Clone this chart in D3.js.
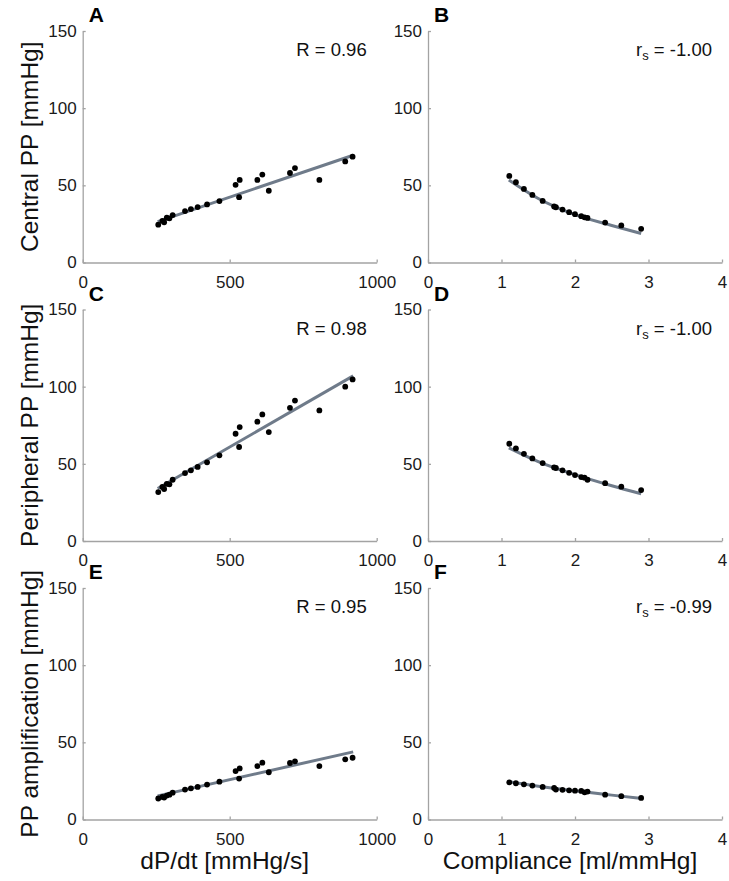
<!DOCTYPE html>
<html>
<head>
<meta charset="utf-8">
<script src="https://cdn.jsdelivr.net/npm/d3@7"></script>
<style>
  body { margin: 0; background: #fff; }
  svg { font-family: "Liberation Sans", Arial, sans-serif; }
  .axis path, .axis line { stroke: #a3a3a3; stroke-width: 1.3; }
  .axis text { fill: #1a1a1a; font-size: 17px; }
  .fit { fill: none; stroke: #6f7b8a; stroke-width: 3; }
</style>
</head>
<body>
<div id="chart"></div>
<script>
// dP/dt panels (A, C, E) share the same x values
const dpdt = [257, 271, 277, 286, 295, 306, 348, 368, 391, 423, 465, 520, 532, 534, 594, 611, 633, 705, 722, 805, 893, 918];
const centralPP = [24.5, 27, 26, 29, 28.6, 30.7, 33.3, 34.6, 35.9, 37.6, 39.8, 50.3, 42.3, 53.5, 53.5, 57, 46.5, 58, 61.2, 53.5, 65.5, 68.6];
const peripheralPP = [31.7, 35, 33.7, 37, 36.7, 39.7, 44, 45.8, 48, 51, 55.5, 69.5, 60.9, 73.8, 77.3, 82, 70.6, 86.3, 91, 84.6, 100, 104.7];
const ampPP = [13.6, 14.6, 14.2, 15.5, 16.1, 17.4, 19.4, 20.2, 21.1, 22.6, 24.5, 31.4, 26.5, 33.1, 34.6, 36.8, 30.6, 36.6, 37.7, 34.6, 39, 40];

// compliance panels (B, D, F)
const compliance = [1.106, 1.196, 1.305, 1.42, 1.56, 1.716, 1.74, 1.83, 1.92, 2.0, 2.085, 2.13, 2.17, 2.41, 2.63, 2.9];
const centralC = [56.1, 52, 47.7, 43.8, 39.9, 36.3, 35.8, 34.3, 32.6, 31.3, 30, 29.3, 28.9, 25.9, 24, 21.8];
const peripheralC = [63, 60, 56.5, 53.5, 50.5, 47.7, 47.3, 45.8, 44.2, 42.7, 41.4, 41, 39.7, 37.5, 35.2, 33];
const ampC = [24.1, 23.5, 22.8, 22, 21.1, 20.4, 19.4, 19.2, 18.9, 18.7, 18.5, 17.6, 18.1, 16.1, 15.1, 14];

// fitted lines / curves
const fitA = [[255, 26.5], [920, 69.5]];
const fitC = [[255, 34], [920, 107]];
const fitE = [[255, 15.3], [920, 43.8]];
const fitB = [[1.1, 53.5], [1.5, 41.5], [2.0, 31], [2.5, 24], [2.9, 18.8]];
const fitD = [[1.1, 60.4], [1.5, 51.5], [2.0, 43], [2.5, 35.8], [2.9, 30.6]];
const fitF = [[1.1, 24.4], [1.5, 21.6], [2.0, 18.6], [2.5, 15.8], [2.9, 13.6]];

const yTicks = [0, 50, 100, 150];
const dpdtTicks = [0, 500, 1000];
const compTicks = [0, 1, 2, 3, 4];

const rowTitles = ["Central PP [mmHg]", "Peripheral PP [mmHg]", "PP amplification [mmHg]"];
const colTitles = ["dP/dt [mmHg/s]", "Compliance [ml/mmHg]"];

const panels = [
  {label: "A", row: 0, col: 0, x: dpdt, y: centralPP, fit: fitA, stat: "R", val: "0.96"},
  {label: "B", row: 0, col: 1, x: compliance, y: centralC, fit: fitB, stat: "rs", val: "-1.00"},
  {label: "C", row: 1, col: 0, x: dpdt, y: peripheralPP, fit: fitC, stat: "R", val: "0.98"},
  {label: "D", row: 1, col: 1, x: compliance, y: peripheralC, fit: fitD, stat: "rs", val: "-1.00"},
  {label: "E", row: 2, col: 0, x: dpdt, y: ampPP, fit: fitE, stat: "R", val: "0.95"},
  {label: "F", row: 2, col: 1, x: compliance, y: ampC, fit: fitF, stat: "rs", val: "-0.99"},
];

const width = 729, height = 881;
const colLeft = [82.7, 428], panelW = 294;
const rowTop = [31, 309.5, 588], panelH = 231.5;

const svg = d3.select("#chart").append("svg")
  .attr("width", width)
  .attr("height", height);

function AddPanel(p) {
  const x0 = colLeft[p.col], y0 = rowTop[p.row];
  const xDomain = p.col === 0 ? [0, 1000] : [0, 4];
  const xScale = d3.scaleLinear().domain(xDomain).range([0, panelW]);
  const yScale = d3.scaleLinear().domain([0, 150]).range([panelH, 0]);

  const g = svg.append("g").attr("transform", `translate(${x0},${y0})`);

  g.append("g")
    .classed("axis", true)
    .attr("transform", `translate(0,${panelH})`)
    .call(d3.axisBottom(xScale)
      .tickValues(p.col === 0 ? dpdtTicks : compTicks)
      .tickFormat(d3.format("d"))
      .tickSizeInner(-3).tickSizeOuter(0).tickPadding(13));

  g.append("g")
    .classed("axis", true)
    .call(d3.axisLeft(yScale)
      .tickValues(yTicks)
      .tickSizeInner(-3).tickSizeOuter(0).tickPadding(6));

  const line = d3.line()
    .curve(d3.curveMonotoneX)
    .x(d => xScale(d[0]))
    .y(d => yScale(d[1]));

  g.append("path")
    .classed("fit", true)
    .attr("d", line(p.fit));

  g.append("g")
    .selectAll("circle")
    .data(d3.range(p.x.length))
    .join("circle")
    .attr("cx", i => xScale(p.x[i]))
    .attr("cy", i => yScale(p.y[i]))
    .attr("r", 2.9)
    .attr("fill", "#000");

  // panel letter, sits just right of the "0" tick label of the panel above
  g.append("text")
    .attr("x", 6)
    .attr("y", -9)
    .attr("font-size", 21)
    .attr("font-weight", "bold")
    .text(p.label);

  // correlation label
  const t = g.append("text")
    .attr("x", panelW - 10)
    .attr("y", 25)
    .attr("text-anchor", "end")
    .attr("font-size", 18.5)
    .attr("fill", "#111");
  if (p.stat === "R") {
    t.text(`R = ${p.val}`);
  } else {
    t.append("tspan").text("r");
    t.append("tspan").attr("font-size", 13).attr("dy", 4).text("s");
    t.append("tspan").attr("dy", -4).text(` = ${p.val}`);
  }
}

panels.forEach(AddPanel);

// row titles
rowTitles.forEach((txt, r) => {
  svg.append("text")
    .attr("transform", `translate(38,${rowTop[r] + panelH / 2}) rotate(-90)`)
    .attr("text-anchor", "middle")
    .attr("font-size", 24.5)
    .attr("fill", "#111")
    .text(txt);
});

// column titles
colTitles.forEach((txt, c) => {
  svg.append("text")
    .attr("x", colLeft[c] + panelW / 2 - 5)
    .attr("y", 869)
    .attr("text-anchor", "middle")
    .attr("font-size", 24.5)
    .attr("fill", "#111")
    .text(txt);
});
</script>
</body>
</html>
